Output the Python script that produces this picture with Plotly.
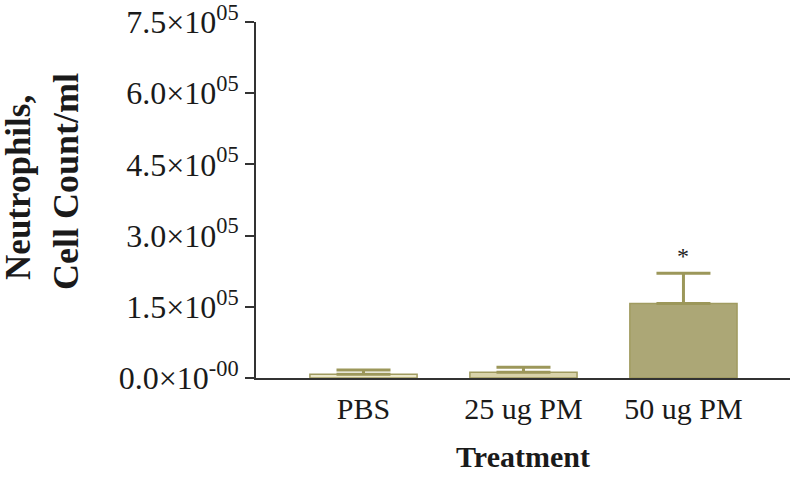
import plotly.graph_objects as go

categories = ["PBS", "25 ug PM", "50 ug PM"]
means = [8000, 12000, 157000]
errors = [9000, 10500, 63500]
fills = ["#ece8cb", "#d9d3aa", "#aca776"]
tick_vals = [0, 150000, 300000, 450000, 600000, 750000]
tick_text = ["0.0×10<sup>-00</sup>", "1.5×10<sup>05</sup>", "3.0×10<sup>05</sup>",
             "4.5×10<sup>05</sup>", "6.0×10<sup>05</sup>", "7.5×10<sup>05</sup>"]
star_y = 256000

FONT = "Liberation Serif"

fig = go.Figure()
fig.add_trace(go.Bar(
    x=categories, y=means, width=0.67,
    marker=dict(color=fills, line=dict(color="#a09b60", width=1.5)),
    error_y=dict(type="data", array=errors, arrayminus=[0, 0, 0], symmetric=False,
                 color="#9c975a", thickness=3, width=27),
    showlegend=False,
))

fig.add_annotation(x=categories[2], y=star_y, xref="x", yref="y", text="*",
                   showarrow=False, font=dict(family=FONT, size=24, color="#222"))

fig.add_annotation(x=-0.445, y=0.535, xref="paper", yref="paper", text="<b>Neutrophils,</b>",
                   textangle=-90, showarrow=False, xanchor="center", yanchor="middle",
                   font=dict(family=FONT, size=35, color="#1a1a1a"))
fig.add_annotation(x=-0.356, y=0.553, xref="paper", yref="paper", text="<b>Cell Count/ml</b>",
                   textangle=-90, showarrow=False, xanchor="center", yanchor="middle",
                   font=dict(family=FONT, size=36, color="#1a1a1a"))

fig.update_layout(
    width=800, height=479,
    margin=dict(l=256, r=10, t=22, b=101),
    plot_bgcolor="white", paper_bgcolor="white",
    font=dict(family=FONT, color="#1a1a1a"),
    bargap=0.33,
)
fig.update_xaxes(
    range=[-0.672, 2.666], showline=True, linecolor="#333", linewidth=2,
    ticks="outside", ticklen=3, tickcolor="rgba(0,0,0,0)",
    tickfont=dict(family=FONT, size=30, color="#1a1a1a"),
    title=dict(text="<b>Treatment</b>", font=dict(family=FONT, size=30, color="#1a1a1a"), standoff=22),
    showgrid=False, zeroline=False, automargin=False,
)
fig.update_yaxes(
    range=[0, 750000], showline=True, linecolor="#333", linewidth=2,
    ticks="outside", ticklen=9, tickwidth=2, tickcolor="#333",
    tickvals=tick_vals, ticktext=tick_text, ticklabeloverflow="allow",
    tickfont=dict(family=FONT, size=32, color="#1a1a1a"),
    showgrid=False, zeroline=False, automargin=False,
)

fig.write_html("out.html", config={"displayModeBar": False},
               post_script="document.body.style.margin='0';")
